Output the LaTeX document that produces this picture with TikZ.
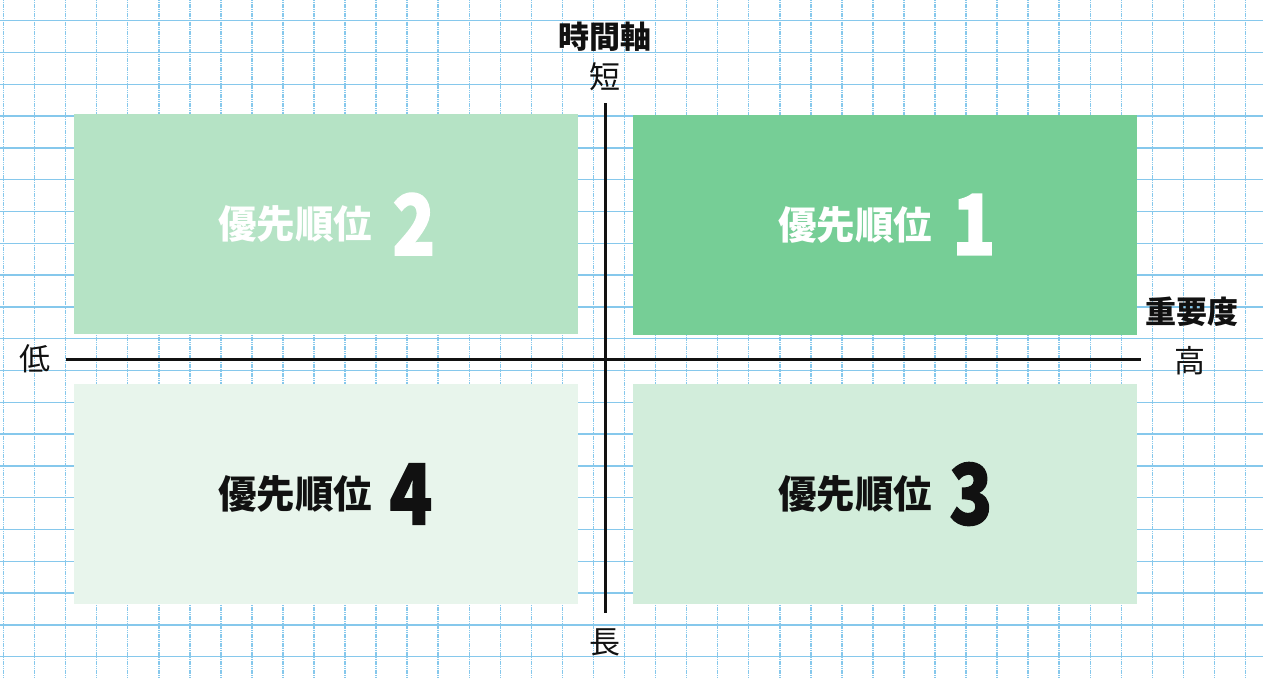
\documentclass[tikz,border=0pt]{standalone}
\usepackage{fontspec}
\setmainfont{Noto Sans CJK JP}
\newfontfamily\numfont[FakeStretch=0.84, BoldFeatures={FakeBold=1.6}]{Noto Sans CJK JP}
\usetikzlibrary{positioning}
\definecolor{gridblue}{HTML}{86C8EC}
\definecolor{qone}{HTML}{76CE96}
\definecolor{qtwo}{HTML}{B5E3C5}
\definecolor{qthree}{HTML}{D2EDDB}
\definecolor{qfour}{HTML}{E8F5EC}
\definecolor{ink}{HTML}{111111}
\tikzset{
  box/.style={draw=none, minimum width=504pt, minimum height=220pt, inner sep=0pt},
  lbl/.style={font=\fontsize{38.5}{38.5}\selectfont\bfseries, inner sep=0pt},
  num/.style={font=\fontsize{84}{84}\selectfont\numfont\bfseries, inner sep=0pt},
  axislbl/.style={font=\fontsize{31}{31}\selectfont, text=ink, inner sep=0pt},
  axisname/.style={font=\fontsize{31}{31}\selectfont\bfseries, text=ink, inner sep=0pt},
  axis/.style={line width=3pt, ink},
}
\begin{document}
\begin{tikzpicture}[x=1pt,y=-1pt]
    \useasboundingbox (0,0) rectangle (1263,678);
    \fill[white] (0,0) rectangle (1263,678);
%    grid paper
    \foreach \k in {0,...,40}
        \draw[gridblue, line width=1.5pt, dash pattern=on 1.2pt off 0.6pt] (3.5+31.05*\k,0) -- (3.5+31.05*\k,678);
    \foreach \k in {0,...,20}
        \draw[gridblue, line width=1.5pt] (0,20.7+31.8*\k) -- (1263,20.7+31.8*\k);

%    quadrants
    \node[box, fill=qtwo] (q2) at (326,224) {};
    \node[box, fill=qone] (q1) at (885,224.5) {};
    \node[box, fill=qfour] (q4) at (326,494) {};
    \node[box, fill=qthree] (q3) at (885,494) {};

    \node[lbl, text=white] (t2) at ([xshift=-31pt]q2.center) {優先順位};
    \node[num, text=white, right=20pt of t2] (n2) {2};
    \node[lbl, text=white] (t1) at ([xshift=-30pt]q1.center) {優先順位};
    \node[num, text=white, right=20pt of t1] (n1) {1};
    \node[lbl, text=ink] (t4) at ([xshift=-31pt]q4.center) {優先順位};
    \node[num, text=ink, right=17pt of t4] (n4) {4};
    \node[lbl, text=ink] (t3) at ([xshift=-30pt]q3.center) {優先順位};
    \node[num, text=ink, right=17pt of t3] (n3) {3};

%    axes
    \coordinate (xl) at (66,359);
    \coordinate (xr) at (1141,359);
    \coordinate (yt) at (605,103);
    \coordinate (yb) at (605,613);
    \draw[axis] (xl) -- (xr);
    \draw[axis] (yt) -- (yb);

    \node[axislbl] (low) at (35,359) {低};
    \node[axislbl] (high) at (1190,361) {高};
    \node[axisname] (imp) at (1192,312) {重要度};
    \node[axislbl] (short) at (605,77) {短};
    \node[axisname] (time) at (605,37) {時間軸};
    \node[axislbl] (long) at (605,642) {長};
\end{tikzpicture}
\end{document}
